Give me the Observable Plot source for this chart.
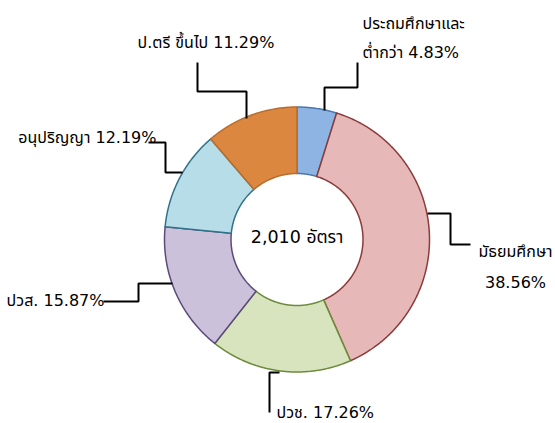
<!DOCTYPE html>
<html>
<head>
<meta charset="utf-8">
<script src="https://cdn.jsdelivr.net/npm/d3@7"></script>
<script src="https://cdn.jsdelivr.net/npm/@observablehq/plot@0.6"></script>
<style>
  html, body { margin: 0; padding: 0; background: #fff; }
  #chart svg { display: block; }
</style>
</head>
<body>
<div id="chart"></div>
<script>
// ---- data ----
const categories = ["ประถมศึกษาและต่ำกว่า", "มัธยมศึกษา", "ปวช.", "ปวส.", "อนุปริญญา", "ป.ตรี ขึ้นไป"];
const percents = [4.83, 38.56, 17.26, 15.87, 12.19, 11.29];
const labelTexts = ["ประถมศึกษาและ\nต่ำกว่า 4.83%", "มัธยมศึกษา\n38.56%", "ปวช. 17.26%", "ปวส. 15.87%", "อนุปริญญา 12.19%", "ป.ตรี ขึ้นไป 11.29%"];
const centerLabel = "2,010 อัตรา";

// ---- styles ----
const fills = ["#8DB4E2", "#E6B9B8", "#D7E4BD", "#CCC1DA", "#B7DEE8", "#DC873F"];
const strokes = ["#4A76AE", "#8C3A3A", "#6E8B3D", "#5C4A7A", "#31728A", "#B86D2E"];

// ---- layout (pixel offsets from the donut centre) ----
const W = 555, H = 423, CX = 296.5, CY = 239, R = 132.5, RIN = 66;
const FONT = "'DejaVu Sans', 'Noto Sans Thai', Tahoma, sans-serif";
const FS = 16;
const leaderPaths = [
  [[357, 62], [357, 87], [324, 87], [324, 110]],
  [[427, 213], [450, 213], [450, 244], [470, 244]],
  [[269, 412], [269, 372], [279, 372]],
  [[103, 301], [138, 301], [138, 283], [172, 283]],
  [[148, 142], [165, 142], [165, 172], [182, 172]],
  [[197, 62], [197, 91], [246, 91], [246, 118]]
];
const labelPos = [
  {x: 362, y: 57, anchor: "start", lh: 29 / FS},
  {x: 515, y: 287, anchor: "middle", lh: 31 / FS},
  {x: 276, y: 417, anchor: "start", lh: 1},
  {x: 104, y: 305, anchor: "end", lh: 1},
  {x: 156, y: 142, anchor: "end", lh: 1},
  {x: 137, y: 47, anchor: "start", lh: 1}
];

// ---- build slice polygons from the values ----
const pie = d3.pie().sort(null).value(d => d.value);
const arcs = pie(categories.map((c, i) => ({category: c, value: percents[i], i})));
const slicePts = [];
arcs.forEach(a => {
  const n = Math.max(8, Math.ceil((a.endAngle - a.startAngle) / 0.01));
  const outer = d3.range(n + 1).map(k => a.startAngle + (a.endAngle - a.startAngle) * k / n);
  outer.forEach(t => slicePts.push({category: a.data.category, i: a.data.i, x: R * Math.sin(t), y: -R * Math.cos(t)}));
  outer.slice().reverse().forEach(t => slicePts.push({category: a.data.category, i: a.data.i, x: RIN * Math.sin(t), y: -RIN * Math.cos(t)}));
});

const leaderPts = leaderPaths.flatMap((p, i) => p.map(([x, y]) => ({i, x: x - CX, y: y - CY})));
const labels = labelTexts.map((t, i) => ({text: t, x: labelPos[i].x - CX, y: labelPos[i].y - CY, anchor: labelPos[i].anchor, lh: labelPos[i].lh}));

const chart = Plot.plot({
  width: W,
  height: H,
  margin: 0,
  x: {domain: [-CX, W - CX], axis: null},
  y: {domain: [-CY, H - CY], reverse: true, axis: null},
  color: {type: "identity"},
  style: {background: "#fff", fontFamily: FONT},
  marks: [
    Plot.line(slicePts, {x: "x", y: "y", z: "category", curve: "linear-closed",
      fill: d => fills[d.i], stroke: d => strokes[d.i], strokeWidth: 1.5}),
    Plot.line(leaderPts, {x: "x", y: "y", z: "i", stroke: "#000", strokeWidth: 2, strokeLinejoin: "miter", strokeLinecap: "butt"}),
    ...labels.map(l => Plot.text([l], {x: "x", y: "y", text: "text", textAnchor: l.anchor, lineAnchor: "bottom",
      lineHeight: l.lh, fontSize: FS, fill: "#000", fontFamily: FONT})),
    Plot.text([centerLabel], {x: () => 0, y: () => 242 - CY, text: d => d, textAnchor: "middle", lineAnchor: "bottom",
      fontSize: 17.5, fill: "#000", fontFamily: FONT})
  ]
});
document.getElementById("chart").appendChild(chart);
</script>
</body>
</html>
